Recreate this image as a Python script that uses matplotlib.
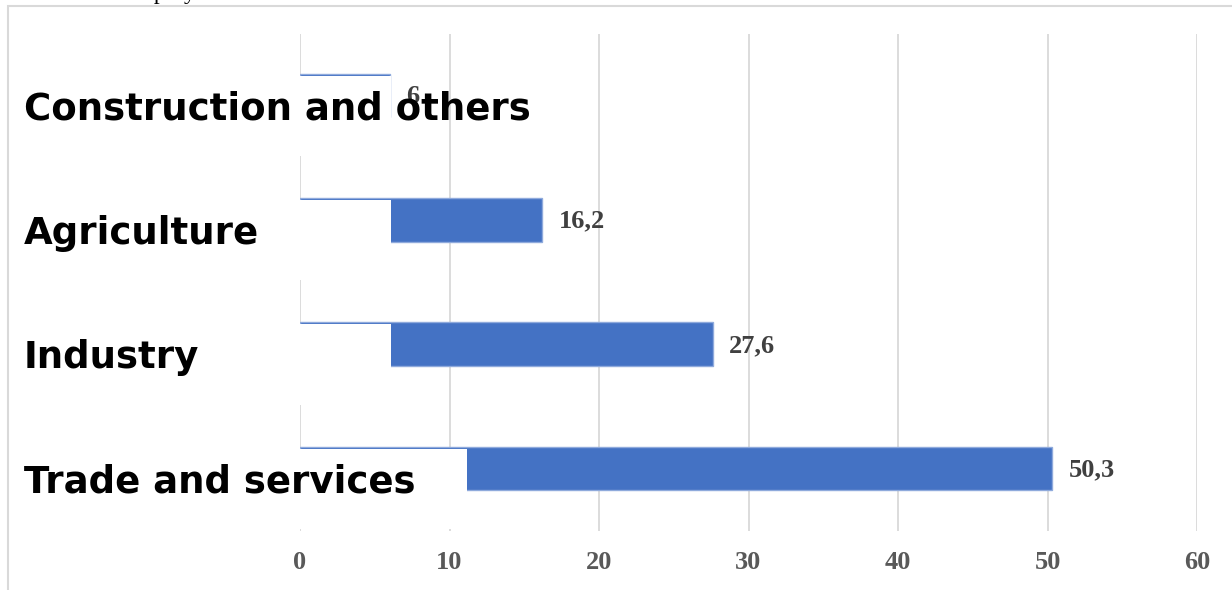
import matplotlib.pyplot as plt
from matplotlib.patches import Rectangle
from matplotlib.transforms import blended_transform_factory
import numpy as np

# categories, bottom to top
categories = ['Trade and services', 'Industry', 'Agriculture', 'Construction and others']
values = [50.3, 27.6, 16.2, 6]
value_labels = ['50,3', '27,6', '16,2', '6']
# part of each bar hidden behind the white label box (as in the screenshot)
hidden = [11.1, 6, 6, 6]
xticks = [0, 10, 20, 30, 40, 50, 60]

W, H = 1232, 590
fig = plt.figure(figsize=(W / 100, H / 100), dpi=100)
ax = fig.add_axes([300 / W, 1 - 530.5 / H, 897 / W, 497 / H])

y = np.arange(len(categories))
bar_h = 0.35
bar_col = '#4472C4'
edge_col = '#8FAADC'

ax.set_xlim(0, 60)
ax.set_ylim(-0.5, len(categories) - 0.5)
ax.set_xticks(xticks)
ax.grid(axis='x', color='#D9D9D9', linewidth=1.3, zorder=0)
ax.set_axisbelow(True)
for s in ax.spines.values():
    s.set_visible(False)
ax.set_yticks([])
ax.tick_params(axis='x', length=0, pad=15)
for lab in ax.get_xticklabels():
    lab.set_fontfamily('Liberation Serif')
    lab.set_fontweight('bold')
    lab.set_fontsize(19)
    lab.set_color('#595959')

ax.barh(y, values, height=bar_h, color=bar_col, edgecolor=edge_col,
        linewidth=1, zorder=2)

# value labels
for yi, v, t in zip(y, values, value_labels):
    ax.text(v + 1.1, yi - 0.01, t, ha='left', va='center',
            fontfamily='Liberation Serif', fontweight='bold', fontsize=19,
            color='#404040', zorder=3)

# white label boxes covering the start of each bar
box_h = 0.645
for yi, hv in zip(y, hidden):
    top = yi + bar_h / 2 - 0.016
    ax.add_patch(Rectangle((-25, top - box_h), hv + 25.06, box_h,
                           facecolor='white', edgecolor='none',
                           zorder=4, clip_on=False))

# category labels
lab_tr = blended_transform_factory(fig.transFigure, ax.transData)
for yi, c in zip(y, categories):
    ax.text(24 / W, yi - bar_h / 2 - 0.02, c, transform=lab_tr,
            ha='left', va='baseline', fontfamily='DejaVu Sans',
            fontweight='bold', fontsize=26.7, color='black', zorder=5)

# outer frame of the chart
fig.patches.append(Rectangle((8 / W, -0.05), 1.1, 1 - 6 / H + 0.05,
                             transform=fig.transFigure, facecolor='none',
                             edgecolor='#D9D9D9', linewidth=1.5))

# cut-off text above the chart
fig.text(125 / W, 1 + 1 / H, 'employment', ha='left', va='baseline',
         fontfamily='Liberation Serif', fontsize=17, color='black')

fig.savefig('out.png', dpi=100)
